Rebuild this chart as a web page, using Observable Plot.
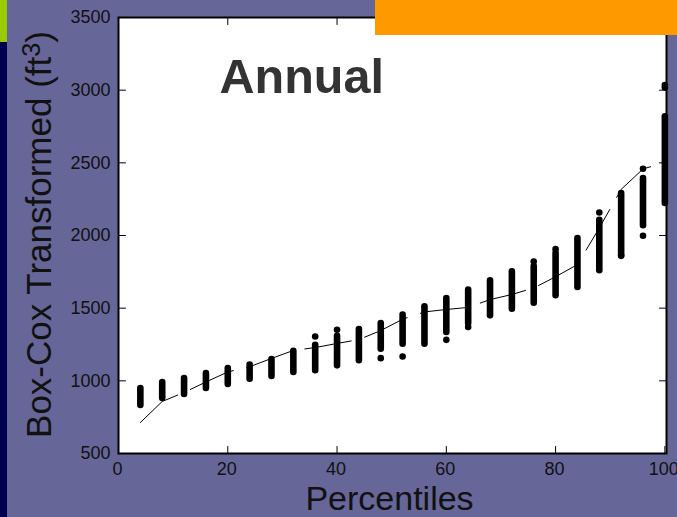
<!DOCTYPE html>
<html><head><meta charset="utf-8">
<script src="https://cdn.jsdelivr.net/npm/d3@7"></script>
<script src="https://cdn.jsdelivr.net/npm/@observablehq/plot@0.6"></script>
<style>
html,body{margin:0;padding:0;background:#666699;width:677px;height:517px;overflow:hidden;font-family:"Liberation Sans",Arial,sans-serif;}
#wrap{position:relative;width:677px;height:517px;}
#wrap svg{position:absolute;left:0;top:0;}
.deco{position:absolute;}
</style></head><body><div id="wrap"></div>
<script>
// Percentile positions of the simulated value columns
const percentiles = [4,8,12,16,20,24,28,32,36,40,44,48,52,56,60,64,68,72,76,80,84,88,92,96,100];
// Bottom and top of each dense column of simulated values
const columnLow  = [830,878,906,947,975,1011,1030,1057,1069,1103,1138,1218,1252,1252,1333,1395,1447,1493,1534,1585,1642,1757,1860,2067,2220];
const columnHigh = [947,988,1016,1050,1085,1108,1147,1204,1245,1307,1353,1395,1452,1509,1567,1624,1688,1750,1787,1876,1979,2105,2289,2392,2817];
// Isolated points away from the columns
const outlierPct   = [36,40,48,52,60,64,76,80,88,92,96,96,100,100];
const outlierValue = [1305,1351,1156,1167,1282,1370,1821,1906,2158,1860,1998,2459,3018,3036];
// Observed curve (thin dashed line)
const observedPct   = [4,8,12,16,20,24,28,32,36,40,44,48,52,56,60,64,68,72,76,80,84,88,92,96,100];
const observedValue = [713,858,920,992,1061,1097,1154,1209,1229,1257,1284,1346,1424,1474,1491,1505,1559,1594,1639,1716,1800,2052,2317,2458,2502];
// Axis ticks
const xTicks = [0,20,40,60,80,100];
const yTicks = [500,1000,1500,2000,2500,3000,3500];

const columns = percentiles.map((p,i)=>({p, lo: columnLow[i], hi: columnHigh[i]}));
const outliers = outlierPct.map((p,i)=>({p, v: outlierValue[i]}));
const observed = observedPct.map((p,i)=>({p, v: observedValue[i]}));

const tickShape = {draw(context, l){ context.moveTo(0,0); context.lineTo(0,-l); }};
const ink = "#111";

const chart = Plot.plot({
  width: 677, height: 517,
  marginLeft: 118, marginRight: 11, marginTop: 17, marginBottom: 64,
  style: {background: "transparent", fontFamily: "'Liberation Sans', Arial, sans-serif", color: ink, overflow: "visible"},
  x: {domain: [0, 100.3], ticks: xTicks},
  y: {domain: [500, 3500], ticks: yTicks},
  marks: [
    Plot.frame({fill: "white", stroke: null}),
    Plot.ruleX(columns, {x: "p", y1: "lo", y2: "hi", stroke: "black", strokeWidth: 6.6, strokeLinecap: "round"}),
    Plot.dot(outliers, {x: "p", y: "v", r: 3.3, fill: "black", stroke: null}),
    Plot.line(observed, {x: "p", y: "v", stroke: "black", strokeWidth: 1, strokeDasharray: "47,14"}),
    Plot.vector(yTicks, {y: d=>d, frameAnchor: "left", length: 7, rotate: 90, anchor: "start", shape: tickShape, stroke: "black", strokeWidth: 1}),
    Plot.vector(yTicks, {y: d=>d, frameAnchor: "right", length: 7, rotate: -90, anchor: "start", shape: tickShape, stroke: "black", strokeWidth: 1}),
    Plot.vector(xTicks, {x: d=>d, frameAnchor: "bottom", length: 7, rotate: 0, anchor: "start", shape: tickShape, stroke: "black", strokeWidth: 1}),
    Plot.vector(xTicks, {x: d=>d, frameAnchor: "top", length: 7, rotate: 180, anchor: "start", shape: tickShape, stroke: "black", strokeWidth: 1}),
    Plot.frame({stroke: "black", strokeWidth: 2}),
    Plot.axisY(yTicks, {tickSize: 0, tickPadding: 8, fontSize: 18, fill: ink, label: null, tickFormat: d3.format("d")}),
    Plot.axisX(xTicks, {tickSize: 0, tickPadding: 9, fontSize: 18, fill: ink, label: null, tickFormat: d3.format("d"), dx: -1}),
    Plot.text(["Percentiles"], {text: d=>d, frameAnchor: "bottom", lineAnchor: "bottom", textAnchor: "middle", dx: -3, dy: 56, fontSize: 34, fill: ink}),
    Plot.text(["Box-Cox Transformed (ft³)"], {text: d=>d, frameAnchor: "left", textAnchor: "middle", lineAnchor: "middle", dx: -79, dy: -1, rotate: -90, fontSize: 35, fill: ink}),
    Plot.text(["Annual"], {text: d=>d, frameAnchor: "top-left", textAnchor: "start", lineAnchor: "top", dx: 101, dy: 41, fontSize: 48.5, fontWeight: "bold", fill: "#333333"})
  ]
});
// Render the cubic-feet unit with a true superscript
chart.querySelectorAll("text").forEach(t => {
  if (t.textContent === "Box-Cox Transformed (ft³)") {
    const ns = "http://www.w3.org/2000/svg";
    t.textContent = "Box-Cox Transformed (ft";
    const sup = document.createElementNS(ns, "tspan");
    sup.setAttribute("dy", "-0.42em"); sup.setAttribute("font-size", "0.72em"); sup.textContent = "3";
    const rest = document.createElementNS(ns, "tspan");
    rest.setAttribute("dy", "0.3em"); rest.textContent = ")";
    t.appendChild(sup); t.appendChild(rest);
  }
});
const wrap = document.getElementById("wrap");
wrap.appendChild(chart);
function deco(l,t,w,h,c){const d=document.createElement("div");d.className="deco";d.style.cssText=`left:${l}px;top:${t}px;width:${w}px;height:${h}px;background:${c}`;wrap.appendChild(d);}
deco(375,0,302,35,"#ff9900");
deco(0,0,7,42,"#99cc00");
deco(0,42,7,475,"#000050");
</script>
</body></html>
